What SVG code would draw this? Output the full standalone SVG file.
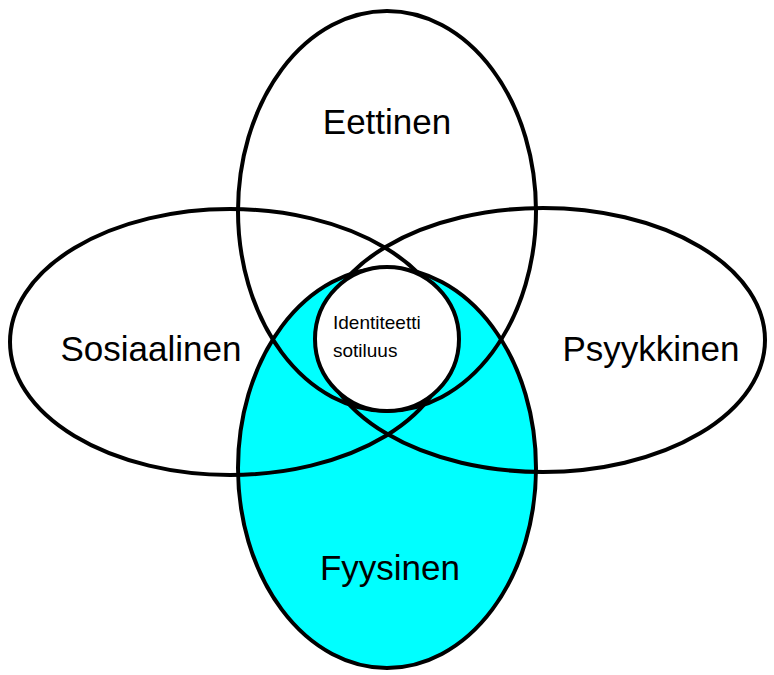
<svg xmlns="http://www.w3.org/2000/svg" width="774" height="675" viewBox="0 0 774 675">
<style>
.o{fill:none;stroke:#000;stroke-width:4}
.t{font-family:"Liberation Sans",Arial,sans-serif;font-size:35px;fill:#000;text-anchor:middle}
.s{font-family:"Liberation Sans",Arial,sans-serif;font-size:19px;fill:#000}
</style>
<rect width="774" height="675" fill="#fff"/>
<ellipse cx="387" cy="468" rx="149" ry="200" fill="#00ffff"/>
<g id="eettinen"><ellipse class="o" cx="387" cy="211" rx="149" ry="200"/><text class="t" x="387" y="134">Eettinen</text></g>
<g id="sosiaalinen"><ellipse class="o" cx="230" cy="342" rx="220" ry="133"/><text class="t" x="151" y="361">Sosiaalinen</text></g>
<g id="psyykkinen"><ellipse class="o" cx="543" cy="340" rx="222" ry="132"/><text class="t" x="651" y="361">Psyykkinen</text></g>
<g id="fyysinen"><ellipse class="o" cx="387" cy="468" rx="149" ry="200"/><text class="t" x="390" y="580">Fyysinen</text></g>
<g id="identiteetti"><circle cx="387" cy="339" r="72" fill="#fff" stroke="#000" stroke-width="4"/><text class="s" x="333" y="329">Identiteetti</text><text class="s" x="333" y="357">sotiluus</text></g>
</svg>
